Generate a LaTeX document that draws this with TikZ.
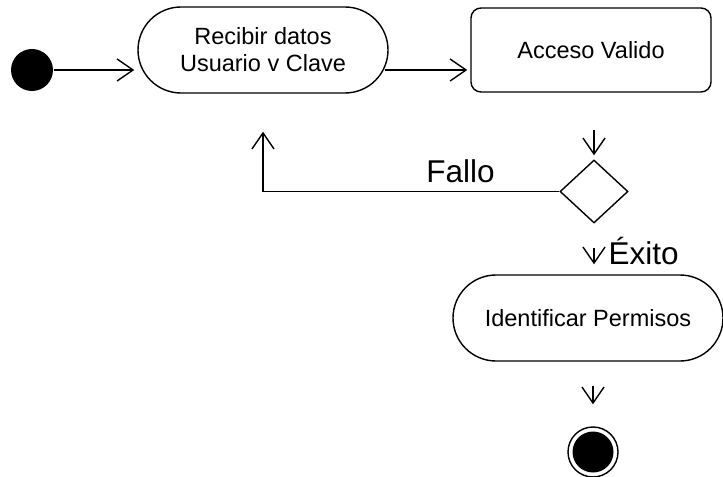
\documentclass[tikz,border=0pt]{standalone}
\usepackage{fontspec}
\setmainfont{Liberation Sans}
\usetikzlibrary{arrows.meta,shapes.geometric,shapes.misc,calc}

% text sizes for activities and guard labels
\newcommand\actfont{\fontsize{23.5bp}{27bp}\selectfont}
\newcommand\lblfont{\fontsize{31.5bp}{36bp}\selectfont}

\begin{document}
\begin{tikzpicture}[x=1bp,y=-1bp,line width=1.4bp,
  flow/.style={-{Straight Barb[length=16bp,width=22bp,line width=1.4bp]}},
  action/.style={draw,rounded rectangle,minimum height=86bp,
    align=center,font=\actfont,inner sep=0pt},
  statebox/.style={draw,rounded corners=10bp,minimum width=240bp,
    minimum height=84bp,font=\actfont,inner sep=0pt},
  choice/.style={draw,diamond,aspect=1.08,minimum width=68bp,
    minimum height=63bp,inner sep=0pt},
  guard/.style={font=\lblfont,inner sep=0pt},
  startdot/.style={circle,fill=black,minimum size=42bp,inner sep=0pt},
]
\useasboundingbox (0,0) rectangle (723,477);

% nodes
\node[startdot] (init) at (32,70) {};
\node[action,minimum width=250bp] (rec) at (263,50) {Recibir datos\\Usuario v Clave};
\node[statebox] (acc) at (591,50) {Acceso Valido};
\node[choice] (dec) at (594,191.5) {};
\node[action,minimum width=270bp] (iden) at (588,318) {Identificar Permisos};
\node[circle,draw,fill=white,minimum size=50bp,inner sep=0pt] (fin) at (593,452) {};
\node[circle,fill=black,minimum size=41bp,inner sep=0pt] (fincore) at (fin.center) {};

% guard labels
\node[guard,anchor=base] (fallo) at (460.5,183) {Fallo};
\node[guard,anchor=base west] (exito) at (608,265) {Éxito};

% loose ends of the short transitions
\coordinate (accout) at ($(acc.south -| dec.north)+(0,37)$);
\coordinate (decin) at ($(dec.north)+(0,-4)$);
\coordinate (decout) at ($(dec.south)+(0,24)$);
\coordinate (idenin) at ($(dec.south |- iden.north)+(0,-10)$);
\coordinate (idenout) at ($(iden.south -| fin.north)+(0,24)$);
\coordinate (finin) at ($(fin.north)+(0,-22)$);
\coordinate (loopend) at ($(rec.south)+(0,38)$);

% transitions
\draw[flow,shorten >=3bp] (init) -- (init -| rec.west);
\draw[flow,shorten >=3bp] ($(rec.east |- init)+(-4,0)$) -- (init -| acc.west);
\draw[flow] (accout) -- (decin);
\draw[flow] (dec.west) -| (loopend);
\draw[flow] (decout) -- (idenin);
\draw[flow] (idenout) -- (finin);
\end{tikzpicture}
\end{document}
